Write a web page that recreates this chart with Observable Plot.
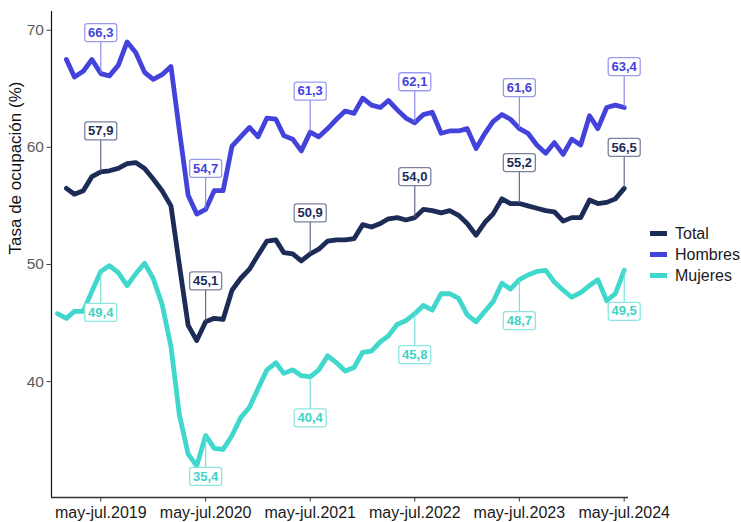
<!DOCTYPE html>
<html>
<head>
<meta charset="utf-8">
<script src="https://cdn.jsdelivr.net/npm/d3@7"></script>
<script src="https://cdn.jsdelivr.net/npm/@observablehq/plot@0.6"></script>
<style>
  body { margin: 0; background: #fff; font-family: "Liberation Sans", Arial, sans-serif; }
  #wrap { position: relative; width: 741px; height: 522px; }
  #legend { position: absolute; left: 650px; top: 223px; }
  .row { display: flex; align-items: center; height: 21px; font-size: 16px; color: #1a1a1a; }
  .key { width: 17px; height: 5px; margin-right: 8px; }
</style>
</head>
<body>
<div id="wrap"></div>
<script>
// Trimestres móviles (mes central), desde dic-feb 2019 hasta may-jul 2024
const periodos = d3.utcMonth.range(new Date(Date.UTC(2019, 0, 1)), new Date(Date.UTC(2024, 6, 1)));

const total = [null,
  56.5, 56.0, 56.3, 57.5, 57.9, 58.0, 58.2, 58.6, 58.7, 58.2, 57.3, 56.3,
  55.0, 50.0, 44.8, 43.5, 45.1, 45.4, 45.3, 47.8, 48.8, 49.6, 50.8, 52.0,
  52.1, 51.0, 50.9, 50.3, 50.9, 51.3, 52.0, 52.1, 52.1, 52.2, 53.4, 53.2,
  53.5, 53.9, 54.0, 53.8, 54.0, 54.7, 54.6, 54.4, 54.6, 54.2, 53.5, 52.5,
  53.6, 54.3, 55.6, 55.2, 55.2, 55.0, 54.8, 54.6, 54.5, 53.7, 54.0, 54.0,
  55.5, 55.2, 55.3, 55.6, 56.5];

const hombres = [null,
  67.5, 66.0, 66.5, 67.5, 66.3, 66.1, 67.0, 69.0, 68.1, 66.4, 65.8, 66.2,
  66.9, 61.5, 55.9, 54.3, 54.7, 56.3, 56.3, 60.1, 60.9, 61.7, 60.9, 62.5,
  62.4, 61.0, 60.7, 59.7, 61.3, 60.9, 61.6, 62.4, 63.1, 62.9, 64.2, 63.6,
  63.4, 64.0, 63.2, 62.5, 62.1, 62.8, 63.0, 61.2, 61.4, 61.4, 61.6, 59.9,
  61.2, 62.2, 62.8, 62.4, 61.6, 61.2, 60.2, 59.5, 60.4, 59.4, 60.7, 60.2,
  62.7, 61.6, 63.4, 63.6, 63.4];

const mujeres = [45.8,
  45.4, 46.0, 46.0, 47.7, 49.4, 49.9, 49.3, 48.2, 49.2, 50.1, 48.8, 46.6,
  43.0, 37.2, 33.8, 32.8, 35.4, 34.3, 34.2, 35.4, 36.9, 37.8, 39.4, 41.0,
  41.6, 40.7, 41.0, 40.5, 40.4, 41.0, 42.2, 41.6, 40.9, 41.2, 42.5, 42.6,
  43.4, 43.9, 44.9, 45.2, 45.8, 46.5, 46.1, 47.5, 47.5, 47.1, 45.7, 45.1,
  46.0, 46.8, 48.4, 47.9, 48.7, 49.1, 49.4, 49.5, 48.5, 47.8, 47.2, 47.6,
  48.2, 48.7, 46.9, 47.5, 49.5];

const tickLabels = ["may-jul.2019", "may-jul.2020", "may-jul.2021", "may-jul.2022", "may-jul.2023", "may-jul.2024"];
const tickDates = [2019, 2020, 2021, 2022, 2023, 2024].map(y => new Date(Date.UTC(y, 5, 1)));
const yTicks = [40, 50, 60, 70];

const series = [
  {name: "Total",   values: total,   color: "#1d2b57", text: "#1d2b57", box: "#7a829e", rule: "#56607f", dir: 1},
  {name: "Hombres", values: hombres, color: "#4343dc", text: "#4343dc", box: "#9b9bee", rule: "#8585e8", dir: 1},
  {name: "Mujeres", values: mujeres, color: "#40d8cc", text: "#3fd3c7", box: "#8de6df", rule: "#6fdfd5", dir: -1}
];

const xDomain = [d3.utcDay.offset(periodos[0], -21), d3.utcDay.offset(periodos[periodos.length - 1], 15)];
const yDomain = [30.1, 71.6];
const nudge = 3.5;
const fmt = v => v.toFixed(1).replace(".", ",");

const box = {
  draw(ctx) {
    const w = 16, h = 9, r = 2.5;
    ctx.moveTo(-w + r, -h);
    ctx.lineTo(w - r, -h);
    ctx.arcTo(w, -h, w, -h + r, r);
    ctx.lineTo(w, h - r);
    ctx.arcTo(w, h, w - r, h, r);
    ctx.lineTo(-w + r, h);
    ctx.arcTo(-w, h, -w, h - r, r);
    ctx.lineTo(-w, -h + r);
    ctx.arcTo(-w, -h, -w + r, -h, r);
    ctx.closePath();
  }
};

const marks = [
  Plot.ruleX([xDomain[0]], {stroke: "#111", strokeWidth: 1.2}),
  Plot.ruleY([yDomain[0]], {stroke: "#333", strokeWidth: 1.4}),
  Plot.axisY({ticks: yTicks, tickSize: 4.5, tickPadding: 3, fontSize: 15.5, fill: "#5a5a5a", stroke: "#444", label: null}),
  Plot.axisX({ticks: tickDates, tickFormat: d => tickLabels[tickDates.findIndex(t => +t === +d)],
              tickSize: 4.5, tickPadding: 5, fontSize: 16, fill: "#1a1a1a", stroke: "#333", label: null}),
  Plot.text(["Tasa de ocupación (%)"], {frameAnchor: "left", rotate: -90, dx: -36, fontSize: 17, fill: "#111"})
];

for (const s of series) {
  const rows = periodos.map((d, k) => ({fecha: d, valor: s.values[k]})).filter(r => r.valor != null);
  marks.push(Plot.line(rows, {x: "fecha", y: "valor", stroke: s.color, strokeWidth: 4.8,
                              strokeLinejoin: "round", strokeLinecap: "round"}));
}
for (const s of series) {
  const etiquetas = tickDates.map(t => {
    const k = periodos.findIndex(d => +d === +t);
    const v = s.values[k];
    return {fecha: t, valor: v, ly: v + s.dir * nudge};
  });
  marks.push(Plot.ruleX(etiquetas, {x: "fecha", y1: "valor", y2: "ly", stroke: s.rule, strokeWidth: 1.1}));
  marks.push(Plot.dot(etiquetas, {x: "fecha", y: "ly", symbol: box, fill: "white", stroke: s.box, strokeWidth: 1.3}));
  marks.push(Plot.text(etiquetas, {x: "fecha", y: "ly", text: d => fmt(d.valor), fill: s.text,
                                   fontWeight: "bold", fontSize: 13}));
}

const chart = Plot.plot({
  width: 741,
  height: 522,
  marginLeft: 51,
  marginRight: 113,
  marginTop: 11,
  marginBottom: 25,
  style: {fontFamily: "'Liberation Sans', Arial, sans-serif", background: "white", overflow: "visible"},
  x: {type: "utc", domain: xDomain},
  y: {domain: yDomain},
  marks
});

const wrap = document.getElementById("wrap");
wrap.appendChild(chart);
const legend = document.createElement("div");
legend.id = "legend";
for (const s of series) {
  const row = document.createElement("div");
  row.className = "row";
  const key = document.createElement("span");
  key.className = "key";
  key.style.background = s.color;
  const lab = document.createElement("span");
  lab.textContent = s.name;
  row.appendChild(key);
  row.appendChild(lab);
  legend.appendChild(row);
}
wrap.appendChild(legend);
</script>
</body>
</html>
